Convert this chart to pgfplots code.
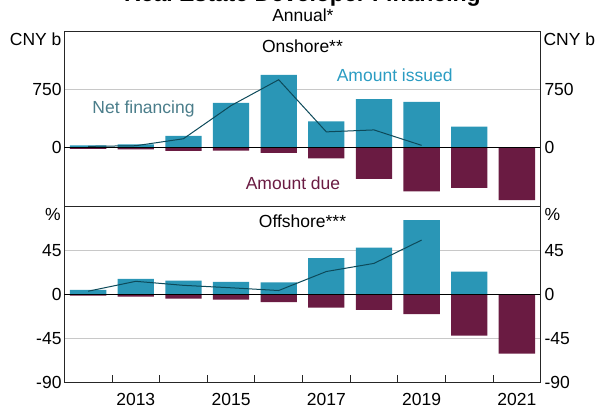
\documentclass[border=0pt]{standalone}
\usepackage{fontspec}
\setmainfont{Liberation Sans}
\usepackage{pgfplots}
\usepackage{pgfplotstable}
\pgfplotsset{compat=1.18}
\definecolor{issued}{HTML}{2A96B6}
\definecolor{due}{HTML}{6A1B42}
\definecolor{netline}{HTML}{0D4A5A}
\definecolor{nettext}{HTML}{4A7D8A}
\definecolor{issuedtext}{HTML}{2A9CC2}
\definecolor{gridgray}{HTML}{C8C8C8}

\pgfplotstableread{
year issued due
2012 33 -13
2013 46 -18
2014 156 -38
2015 580 -34
2016 944 -64
2017 343 -136
2018 631 -399
2019 593 -560
2020 275 -517
2021 0 -674
}\onshore
\pgfplotstableread{
year net
2012 20
2013 28
2014 118
2015 546
2016 880
2017 207
2018 232
2019 33
}\onshorenet
\pgfplotstableread{
year issued due
2012 4.4 -1.4
2013 15.6 -2.5
2014 13.9 -4.5
2015 12.6 -5.5
2016 11.9 -8.2
2017 36.8 -13.7
2018 47.4 -16.0
2019 75.7 -20.5
2020 23.1 -42.3
2021 0 -60.7
}\offshore
\pgfplotstableread{
year net
2012 3.0
2013 13.1
2014 9.0
2015 6.5
2016 3.7
2017 23.1
2018 31.4
2019 55.2
}\offshorenet

\pgfplotsset{
  rbabase/.style={
    scale only axis, width=476.4pt,
    xmin=2011.5, xmax=2021.5,
    axis line style={black!85, line width=0.8pt},
    tick style={black!85, line width=0.8pt},
    major tick length=0pt,
    ymajorgrids, major grid style={gridgray, line width=0.8pt},
    tick label style={font=\fontsize{17.5}{21}\selectfont},
    /pgf/number format/assume math mode=true,
    clip=false,
  },
  issuedbar/.style={ybar, bar width=36.3pt, bar shift=0pt, fill=issued, draw=none},
  duebar/.style={ybar, bar width=36.3pt, bar shift=0pt, fill=due, draw=none},
  netstyle/.style={netline, line width=1pt, mark=none, sharp plot},
}

\begin{document}
\begin{tikzpicture}[x=1pt, y=1pt, font=\fontsize{17.5}{21}\selectfont]
\useasboundingbox (0,0) rectangle (597,407);

% ---------- Top panel (onshore) ----------
\begin{axis}[rbabase, at={(64.3pt,201pt)}, anchor=south west, height=174.3pt,
  ymin=-750, ymax=1500,
  ytick={0,750}, yticklabels={0,750},
  yticklabel style={anchor=east, inner sep=0pt, xshift=-2.6pt},
  xtick=\empty]
\addplot[issuedbar] table[x=year, y=issued]{\onshore};
\addplot[duebar] table[x=year, y=due]{\onshore};
\draw[black, line width=0.8pt] (axis cs:2011.5,0) -- (axis cs:2021.5,0);
\addplot[netstyle] table[x=year, y=net]{\onshorenet};
\end{axis}
\begin{axis}[rbabase, at={(64.3pt,201pt)}, anchor=south west, height=174.3pt,
  ymin=-750, ymax=1500, ymajorgrids=false,
  axis y line*=right, hide x axis,
  ytick={0,750}, yticklabels={0,750},
  yticklabel style={anchor=west, inner sep=0pt, xshift=3.6pt}]
\addplot[draw=none] coordinates {(2012,0)};
\end{axis}

% ---------- Bottom panel (offshore) ----------
\begin{axis}[rbabase, at={(64.3pt,24.7pt)}, anchor=south west, height=176.3pt,
  ymin=-90, ymax=90,
  ytick={-90,-45,0,45}, yticklabels={-90,-45,0,45},
  yticklabel style={anchor=east, inner sep=0pt, xshift=-2.6pt},
  xtick={2013,2015,2017,2019,2021},
  xticklabels={2013,2015,2017,2019,2021},
  xticklabel style={anchor=north, inner sep=0pt, yshift=-11pt},
  minor xtick={2012.5,2013.5,2014.5,2015.5,2016.5,2017.5,2018.5,2019.5,2020.5},
  minor tick length=7pt, tick align=inside, xtick pos=left, ytick pos=left]
\addplot[issuedbar] table[x=year, y=issued]{\offshore};
\addplot[duebar] table[x=year, y=due]{\offshore};
\draw[black, line width=0.8pt] (axis cs:2011.5,0) -- (axis cs:2021.5,0);
\addplot[netstyle] table[x=year, y=net]{\offshorenet};
\end{axis}
\begin{axis}[rbabase, at={(64.3pt,24.7pt)}, anchor=south west, height=176.3pt,
  ymin=-90, ymax=90, ymajorgrids=false,
  axis y line*=right, hide x axis,
  ytick={-90,-45,0,45}, yticklabels={-90,-45,0,45},
  yticklabel style={anchor=west, inner sep=0pt, xshift=3.6pt}]
\addplot[draw=none] coordinates {(2012,0)};
\end{axis}

% ---------- Text ----------
\node[anchor=base, inner sep=0pt, font=\fontsize{23}{26}\selectfont\bfseries] at (302.5,405.5) {Real Estate Developer Financing};
\node[anchor=base, inner sep=0pt] at (302.9,385.3) {Annual*};
\node[anchor=base, inner sep=0pt] at (302.5,354) {Onshore**};
\node[anchor=base, inner sep=0pt] at (302.5,179) {Offshore***};
\node[anchor=base east, inner sep=0pt] at (61.7,361.3) {CNY b};
\node[anchor=base west, inner sep=0pt] at (543.3,361.3) {CNY b};
\node[anchor=base east, inner sep=0pt] at (61.0,186.3) {\%};
\node[anchor=base west, inner sep=0pt] at (544.3,186.3) {\%};
\node[anchor=base, inner sep=0pt, text=nettext] at (143.5,293.7) {Net financing};
\node[anchor=base, inner sep=0pt, text=issuedtext] at (394.7,325.3) {Amount issued};
\node[anchor=base, inner sep=0pt, text=due] at (293,217.7) {Amount due};
\end{tikzpicture}
\end{document}
